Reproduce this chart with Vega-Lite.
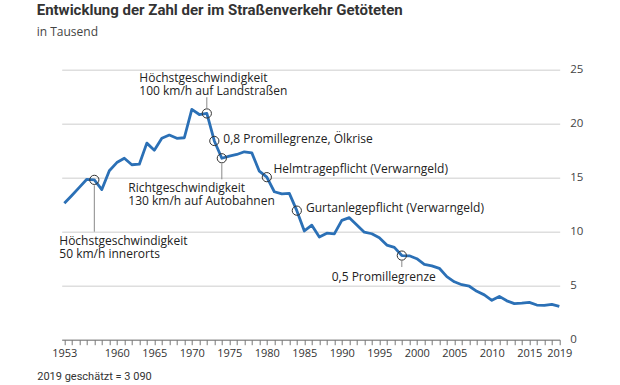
{
  "$schema": "https://vega.github.io/schema/vega-lite/v6.json",
  "width": 498,
  "height": 270,
  "autosize": {"type": "none"},
  "padding": {"left": 61.7, "top": 69.7, "right": 60.3, "bottom": 45.3},
  "background": "white",
  "title": {
    "text": "Entwicklung der Zahl der im Straßenverkehr Getöteten",
    "subtitle": "in Tausend",
    "anchor": "start",
    "frame": "group",
    "dx": -25,
    "offset": 26,
    "font": "Roboto",
    "fontSize": 15,
    "fontWeight": "bold",
    "color": "#333333",
    "subtitleFont": "Open Sans",
    "subtitleFontSize": 12,
    "subtitleColor": "#444444",
    "subtitlePadding": 9
  },
  "config": {
    "view": {"stroke": null},
    "font": "Open Sans"
  },
  "datasets": {
    "deaths": [
      {"year": 1953, "value": 12.63}, {"year": 1954, "value": 13.35}, {"year": 1955, "value": 14.1},
      {"year": 1956, "value": 14.85}, {"year": 1957, "value": 14.8}, {"year": 1958, "value": 13.9},
      {"year": 1959, "value": 15.65}, {"year": 1960, "value": 16.4}, {"year": 1961, "value": 16.8},
      {"year": 1962, "value": 16.2}, {"year": 1963, "value": 16.25}, {"year": 1964, "value": 18.2},
      {"year": 1965, "value": 17.55}, {"year": 1966, "value": 18.65}, {"year": 1967, "value": 18.95},
      {"year": 1968, "value": 18.65}, {"year": 1969, "value": 18.7}, {"year": 1970, "value": 21.33},
      {"year": 1971, "value": 20.85}, {"year": 1972, "value": 20.95}, {"year": 1973, "value": 18.4},
      {"year": 1974, "value": 16.8}, {"year": 1975, "value": 17.0}, {"year": 1976, "value": 17.15},
      {"year": 1977, "value": 17.4}, {"year": 1978, "value": 17.3}, {"year": 1979, "value": 15.6},
      {"year": 1980, "value": 15.05}, {"year": 1981, "value": 13.7}, {"year": 1982, "value": 13.5},
      {"year": 1983, "value": 13.55}, {"year": 1984, "value": 11.95}, {"year": 1985, "value": 10.07},
      {"year": 1986, "value": 10.6}, {"year": 1987, "value": 9.5}, {"year": 1988, "value": 9.86},
      {"year": 1989, "value": 9.8}, {"year": 1990, "value": 11.05}, {"year": 1991, "value": 11.3},
      {"year": 1992, "value": 10.63}, {"year": 1993, "value": 9.95}, {"year": 1994, "value": 9.81},
      {"year": 1995, "value": 9.45}, {"year": 1996, "value": 8.76}, {"year": 1997, "value": 8.55},
      {"year": 1998, "value": 7.79}, {"year": 1999, "value": 7.77}, {"year": 2000, "value": 7.5},
      {"year": 2001, "value": 6.98}, {"year": 2002, "value": 6.84}, {"year": 2003, "value": 6.61},
      {"year": 2004, "value": 5.84}, {"year": 2005, "value": 5.36}, {"year": 2006, "value": 5.09},
      {"year": 2007, "value": 4.95}, {"year": 2008, "value": 4.48}, {"year": 2009, "value": 4.15},
      {"year": 2010, "value": 3.65}, {"year": 2011, "value": 4.01}, {"year": 2012, "value": 3.6},
      {"year": 2013, "value": 3.34}, {"year": 2014, "value": 3.38}, {"year": 2015, "value": 3.46},
      {"year": 2016, "value": 3.21}, {"year": 2017, "value": 3.18}, {"year": 2018, "value": 3.28},
      {"year": 2019, "value": 3.09}
    ],
    "events": [
      {"year": 1957, "value": 14.8, "l1": 14.3, "l2": 10.0, "tx": 1952.33, "ty": 8.74, "label": ["Höchstgeschwindigkeit", "50 km/h innerorts"]},
      {"year": 1972, "value": 20.95, "l1": 21.45, "l2": 22.45, "tx": 1963.0, "ty": 23.89, "label": ["Höchstgeschwindigkeit", "100 km/h auf Landstraßen"]},
      {"year": 1973, "value": 18.4, "tx": 1974.2, "ty": 18.19, "label": ["0,8 Promillegrenze, Ölkrise"]},
      {"year": 1974, "value": 16.8, "l1": 16.3, "l2": 14.85, "tx": 1961.53, "ty": 13.65, "label": ["Richtgeschwindigkeit", "130 km/h auf Autobahnen"]},
      {"year": 1980, "value": 15.05, "tx": 1980.89, "ty": 15.39, "label": ["Helmtragepflicht (Verwarngeld)"]},
      {"year": 1984, "value": 11.95, "tx": 1985.22, "ty": 11.78, "label": ["Gurtanlegepflicht (Verwarngeld)"]},
      {"year": 1998, "value": 7.79, "l1": 7.3, "l2": 6.73, "tx": 1988.65, "ty": 5.46, "label": ["0,5 Promillegrenze"]}
    ]
  },
  "layer": [
    {
      "data": {"name": "deaths"},
      "mark": {"type": "line", "color": "#2b70b6", "strokeWidth": 2.8, "strokeJoin": "round"},
      "encoding": {
        "x": {
          "field": "year", "type": "quantitative",
          "scale": {"domain": [1952.65, 2019.05], "nice": false, "zero": false},
          "axis": {
            "values": [1953,1954,1955,1956,1957,1958,1959,1960,1961,1962,1963,1964,1965,1966,1967,1968,1969,1970,1971,1972,1973,1974,1975,1976,1977,1978,1979,1980,1981,1982,1983,1984,1985,1986,1987,1988,1989,1990,1991,1992,1993,1994,1995,1996,1997,1998,1999,2000,2001,2002,2003,2004,2005,2006,2007,2008,2009,2010,2011,2012,2013,2014,2015,2016,2017,2018,2019],
            "tickCount": 200,
            "labelExpr": "indexof([1953,1960,1965,1970,1975,1980,1985,1990,1995,2000,2005,2010,2015,2019], datum.value) >= 0 ? datum.label : ''",
            "format": "d",
            "labelOverlap": false,
            "labelFlush": false,
            "grid": false,
            "domainColor": "#777777",
            "domainWidth": 1,
            "tickColor": "#777777",
            "tickSize": 5,
            "tickWidth": 1,
            "labelFont": "Open Sans",
            "labelFontSize": 11,
            "labelColor": "#333333",
            "labelPadding": 3,
            "title": "2019 geschätzt = 3 090",
            "titleAnchor": "start",
            "titleX": -25,
            "titleY": 37,
            "titleBaseline": "middle",
            "titleFont": "Roboto",
            "titleFontSize": 11,
            "titleFontWeight": "normal",
            "titleColor": "#333333"
          }
        },
        "y": {
          "field": "value", "type": "quantitative",
          "scale": {"domain": [0, 25], "nice": false},
          "axis": {
            "orient": "right",
            "values": [0, 5, 10, 15, 20, 25],
            "grid": true,
            "gridColor": "#dedede",
            "gridWidth": 1.5,
            "domain": false,
            "ticks": false,
            "labelFont": "Open Sans",
            "labelFontSize": 11.5,
            "labelColor": "#444444",
            "labelPadding": 10,
            "labelAlign": "left",
            "labelFlush": false,
            "title": null
          }
        }
      }
    },
    {
      "data": {"name": "events"},
      "transform": [{"filter": "isValid(datum.l1)"}],
      "mark": {"type": "rule", "color": "#888888", "strokeWidth": 1},
      "encoding": {
        "x": {"field": "year", "type": "quantitative"},
        "y": {"field": "l1", "type": "quantitative"},
        "y2": {"field": "l2"}
      }
    },
    {
      "data": {"name": "events"},
      "mark": {"type": "point", "filled": false, "stroke": "#333333", "strokeWidth": 1, "size": 85, "opacity": 1},
      "encoding": {
        "x": {"field": "year", "type": "quantitative"},
        "y": {"field": "value", "type": "quantitative"}
      }
    },
    {
      "data": {"name": "events"},
      "mark": {"type": "text", "align": "left", "baseline": "alphabetic", "font": "Open Sans", "fontSize": 12, "lineHeight": 13, "color": "#222222"},
      "encoding": {
        "x": {"field": "tx", "type": "quantitative"},
        "y": {"field": "ty", "type": "quantitative"},
        "text": {"field": "label"}
      }
    }
  ]
}
